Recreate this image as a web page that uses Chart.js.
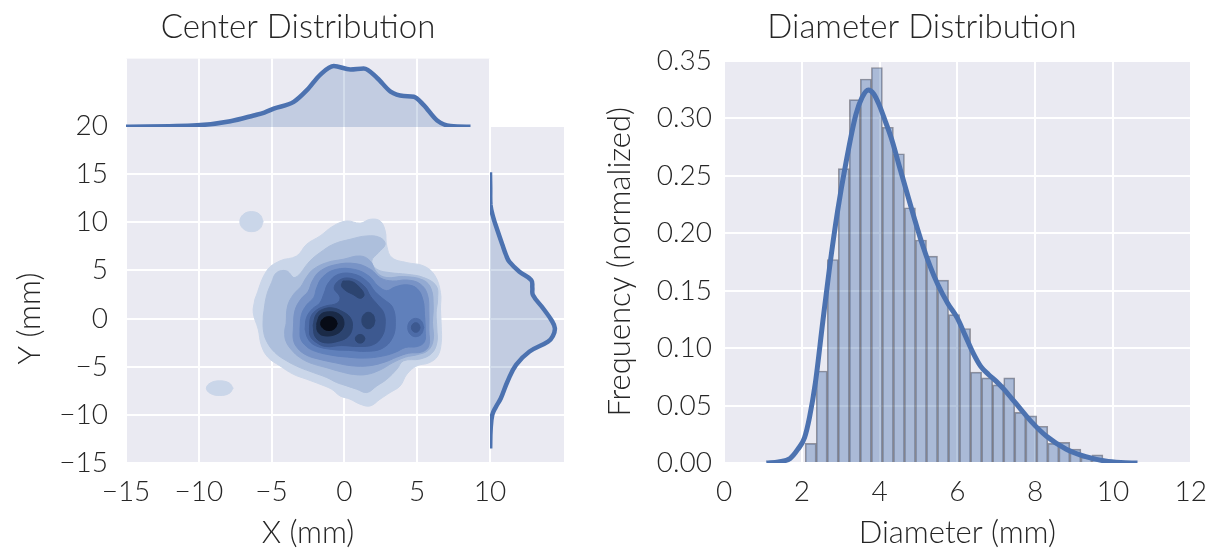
<!DOCTYPE html>
<html>
<head>
<meta charset="utf-8">
<script src="https://cdn.jsdelivr.net/npm/chart.js@4.4.1/dist/chart.umd.min.js"></script>
<style>
html,body{margin:0;padding:0;background:#fff;width:1211px;height:550px;overflow:hidden;position:relative;}
canvas{position:absolute;}
</style>
</head>
<body>
<canvas id="cMain" width="600" height="550" style="left:0;top:0"></canvas>
<canvas id="cYTitle" width="60" height="289" style="left:0;top:174px"></canvas>
<canvas id="cTop" width="384" height="140" style="left:106px;top:0"></canvas>
<canvas id="cSide" width="100" height="380" style="left:480px;top:100px"></canvas>
<canvas id="cHist" width="619" height="550" style="left:600px;top:0"></canvas>
<script>
// ================= DATA =================
// Right panel: normalized histogram of diameters
const binCenters = [2.230,2.513,2.797,3.080,3.364,3.647,3.931,4.214,4.498,4.781,5.065,5.348,5.632,5.915,6.199,6.482,6.766,7.049,7.333,7.616,7.900,8.183,8.467,8.750,9.034,9.317,9.601];
const binHeights = [0.017,0.080,0.177,0.256,0.316,0.334,0.344,0.292,0.269,0.222,0.194,0.180,0.159,0.129,0.117,0.079,0.074,0.068,0.074,0.044,0.041,0.032,0.017,0.018,0.012,0.005,0.007];
// Right panel: KDE of diameters
const kdeDiamX = [1.09,1.4,1.7,1.9,2.07,2.2,2.35,2.54,2.71,2.92,3.14,3.39,3.55,3.71,3.85,3.99,4.15,4.33,4.5,4.67,4.9,5.1,5.3,5.5,5.75,6.0,6.2,6.4,6.6,6.8,7.0,7.2,7.4,7.6,7.9,8.3,8.8,9.3,9.8,10.2,10.63];
const kdeDiamY = [0,0.001,0.004,0.012,0.022,0.04,0.07,0.123,0.169,0.219,0.262,0.303,0.318,0.3245,0.321,0.3115,0.297,0.2795,0.259,0.239,0.212,0.19,0.171,0.155,0.139,0.126,0.111,0.096,0.084,0.077,0.071,0.064,0.056,0.048,0.036,0.023,0.012,0.0055,0.0017,0.0004,0];
const diamTicks = [0,2,4,6,8,10,12];
const freqTicks = [0,0.05,0.10,0.15,0.20,0.25,0.30,0.35];

// Left panel: marginal KDE of X (top)
const topX = [-15,-10.12,-7.83,-6.23,-5.5,-4.85,-3.48,-2.56,-1.65,-0.73,0.42,1.33,2.25,3.17,4.08,4.77,5.45,6.37,7.29,8.66];
const topD = [0.0004,0.0022,0.0076,0.0152,0.019,0.0242,0.0331,0.0488,0.069,0.0802,0.0757,0.077,0.0645,0.0466,0.0408,0.0399,0.0287,0.0085,0.0013,0.0004];
// Left panel: marginal KDE of Y (right side)
const sideY = [-13.5,-11.5,-10.0,-9.2,-8.27,-6.54,-4.81,-3.42,-2.39,-1.8,-1.0,-0.2,1.07,2.45,3.2,4.0,4.87,5.91,6.6,7.63,9.3,10.5,11.8,13.5,15.2];
const sideD = [0.0002,0.0008,0.0028,0.007,0.0132,0.0213,0.0317,0.0481,0.0706,0.0765,0.0789,0.075,0.0645,0.0522,0.0515,0.0502,0.0358,0.0234,0.0195,0.0152,0.0085,0.004,0.0006,0.0003,0];

// Left panel: 2D KDE filled contour levels (outermost -> innermost), [x, y] in mm
const contourColors = ['#CAD6E9','#ADBFDC','#93AAD2','#7893C6','#6080BB','#4D6CA8','#3D5990','#2C4470','#1A2A47','#070B16'];
const lvl1Main = [[-6.15,2.0],[-5.34,4.95],[-4.43,5.99],[-3.28,6.5],[-2.59,7.72],[-1.67,8.58],[-0.76,9.62],[0.16,10.14],[1.08,9.9],[1.77,10.31],[2.45,10.14],[2.8,9.1],[2.91,7.54],[3.26,6.33],[4.29,5.81],[5.44,5.47],[6.2,4.5],[6.6,2.7],[6.6,1.0],[6.65,-0.8],[6.65,-2.5],[6.4,-3.9],[5.8,-4.6],[4.98,-4.91],[4.29,-5.78],[3.83,-6.99],[3.14,-7.68],[2.45,-8.37],[1.77,-9.07],[1.08,-8.89],[0.39,-8.37],[-0.3,-8.03],[-0.87,-7.34],[-1.67,-6.82],[-2.59,-6.3],[-3.51,-5.78],[-4.43,-4.91],[-5.23,-4.05],[-5.69,-2.84],[-5.92,-1.11],[-6.26,0.62],[-6.15,2.0]];
const lvl1BlobA = [[-5.58,10.07],[-5.81,10.81],[-6.38,11.11],[-6.95,10.81],[-7.18,10.07],[-6.95,9.33],[-6.38,9.03],[-5.81,9.33],[-5.58,10.07]];
const lvl1BlobB = [[-7.64,-7.23],[-7.91,-6.69],[-8.56,-6.47],[-9.21,-6.69],[-9.48,-7.23],[-9.21,-7.77],[-8.56,-7.99],[-7.91,-7.77],[-7.64,-7.23]];
const lvl2Main = [[-5.57,0.28],[-5.35,2.35],[-5.0,3.74],[-4.66,4.77],[-3.97,4.95],[-3.39,4.26],[-2.36,5.99],[-1.67,6.85],[-0.76,7.72],[0.39,8.23],[1.54,8.58],[2.45,8.41],[2.8,7.72],[2.34,6.85],[1.88,5.99],[2.23,5.12],[3.14,4.77],[4.29,4.6],[5.44,4.26],[6.3,3.4],[6.4,2.0],[6.3,0.6],[6.35,-1.1],[6.35,-2.5],[6.0,-3.6],[5.2,-4.2],[4.06,-4.39],[3.6,-5.26],[2.91,-6.3],[2.23,-6.99],[1.54,-7.68],[0.85,-7.34],[0.16,-6.99],[-0.53,-6.64],[-1.22,-6.12],[-2.13,-5.61],[-3.05,-5.09],[-3.97,-4.39],[-4.77,-3.53],[-5.35,-2.32],[-5.57,-1.11],[-5.57,0.28]];
const lvl3Main = [[-4.0,-0.5],[-3.9,1.3],[-3.5,2.5],[-3.0,3.3],[-2.6,4.3],[-2.13,5.12],[-1.22,5.81],[-0.07,6.16],[1.08,6.5],[1.77,5.99],[2.23,4.77],[2.91,4.26],[4.06,4.36],[5.4,4.0],[5.95,3.1],[6.1,1.3],[6.05,-0.4],[6.1,-2.2],[5.75,-3.3],[5.0,-3.75],[4.2,-4.0],[3.3,-4.6],[2.5,-5.3],[1.54,-5.8],[0.62,-5.8],[-0.3,-5.5],[-1.22,-5.1],[-2.36,-4.6],[-3.1,-4.0],[-3.6,-3.3],[-4.0,-2.4],[-4.1,-1.4],[-4.0,-0.5]];
const lvl4Main = [[-3.5,-0.9],[-3.4,0.8],[-3.0,2.0],[-2.5,2.8],[-2.2,3.9],[-1.7,4.9],[-0.6,5.6],[0.8,5.7],[1.8,5.1],[2.5,4.2],[3.3,3.9],[4.3,4.0],[5.2,3.6],[5.7,2.5],[5.8,0.6],[5.8,-1.2],[5.8,-2.8],[5.35,-3.45],[4.4,-3.6],[3.6,-4.0],[2.8,-4.5],[1.7,-4.9],[0.5,-4.9],[-0.6,-4.6],[-1.8,-4.2],[-2.6,-3.8],[-3.2,-3.1],[-3.5,-2.2],[-3.5,-0.9]];
const lvl5Main = [[-3.05,-1.1],[-2.95,0.4],[-2.6,1.4],[-2.1,2.2],[-1.9,3.2],[-1.5,4.3],[-0.6,5.1],[0.7,5.1],[1.7,4.4],[2.3,3.4],[2.9,2.9],[3.5,3.3],[4.3,3.5],[5.0,3.1],[5.4,1.9],[5.5,0.4],[5.55,-1.2],[5.5,-2.4],[5.0,-2.9],[4.2,-3.0],[3.5,-3.5],[2.6,-3.9],[1.4,-4.1],[0.2,-4.0],[-0.9,-3.8],[-2.0,-3.4],[-2.6,-2.9],[-3.0,-2.1],[-3.05,-1.1]];
const lvl6Main = [[-2.7,-1.1],[-2.6,0.1],[-2.2,1.0],[-1.7,1.6],[-1.4,2.6],[-1.1,3.7],[-0.4,4.6],[0.7,4.6],[1.6,3.8],[2.1,2.8],[2.7,2.0],[3.3,1.2],[3.5,-0.4],[3.3,-2.0],[2.6,-3.1],[1.5,-3.4],[0.3,-3.3],[-0.9,-3.2],[-2.0,-2.8],[-2.5,-2.1],[-2.7,-1.1]];
const lvl6Right = [[5.45,-0.93],[5.29,-0.26],[4.9,0.02],[4.51,-0.26],[4.35,-0.93],[4.51,-1.6],[4.9,-1.88],[5.29,-1.6],[5.45,-0.93]];
const lvl7Main = [[-2.4,-1.0],[-2.3,0.2],[-1.9,0.9],[-1.3,1.3],[-0.5,1.6],[-0.3,2.2],[-0.7,3.2],[-0.2,4.1],[0.6,4.1],[1.4,3.3],[1.8,2.3],[2.3,1.4],[2.7,0.6],[2.8,-0.6],[2.6,-1.8],[2.0,-2.7],[1.0,-2.9],[-0.2,-2.8],[-1.3,-2.9],[-2.0,-2.4],[-2.35,-1.8],[-2.4,-1.0]];
const lvl7Right = [[5.2,-0.93],[5.11,-0.58],[4.9,-0.43],[4.69,-0.58],[4.6,-0.93],[4.69,-1.28],[4.9,-1.43],[5.11,-1.28],[5.2,-0.93]];
const lvl8Main = [[-2.15,-0.7],[-1.95,0.4],[-1.5,0.95],[-0.8,1.1],[-0.1,0.7],[0.4,0.1],[0.55,-0.8],[0.3,-1.8],[-0.4,-2.35],[-1.4,-2.5],[-2.0,-1.9],[-2.15,-0.7]];
const lvl8Arm = [[-0.1,3.9],[0.5,3.85],[1.0,3.3],[1.35,2.5],[1.1,2.1],[0.6,2.5],[0.1,2.9],[-0.2,3.4],[-0.1,3.9]];
const lvl8BlobA = [[2.1,-0.2],[1.97,0.4],[1.65,0.65],[1.33,0.4],[1.2,-0.2],[1.33,-0.8],[1.65,-1.05],[1.97,-0.8],[2.1,-0.2]];
const lvl8BlobB = [[1.41,-2.1],[1.31,-1.78],[1.08,-1.65],[0.85,-1.78],[0.75,-2.1],[0.85,-2.42],[1.08,-2.55],[1.31,-2.42],[1.41,-2.1]];
const lvl9Main = [[-1.9,-0.5],[-1.65,0.4],[-1.1,0.7],[-0.4,0.5],[-0.05,-0.2],[-0.15,-1.1],[-0.7,-1.7],[-1.5,-1.75],[-1.85,-1.3],[-1.9,-0.5]];
const lvl10Core = [[-0.49,-0.52],[-0.66,-0.01],[-1.06,0.2],[-1.46,-0.01],[-1.63,-0.52],[-1.46,-1.03],[-1.06,-1.24],[-0.66,-1.03],[-0.49,-0.52]];
const contourLevels = [
  [lvl1Main, lvl1BlobA, lvl1BlobB],
  [lvl2Main],
  [lvl3Main],
  [lvl4Main],
  [lvl5Main],
  [lvl6Main, lvl6Right],
  [lvl7Main, lvl7Right],
  [lvl8Main, lvl8Arm, lvl8BlobA, lvl8BlobB],
  [lvl9Main],
  [lvl10Core]
];
const xTicksMain = [-15,-10,-5,0,5,10];
const yTicksMain = [-15,-10,-5,0,5,10,15,20];

// ================= STYLE =================
const FONT = 'Lato, "Open Sans", sans-serif';
const TXT = '#262626';
const BG = '#EAEAF2';
const BLUE = '#4C72B0';
const tickFont = {family: FONT, size: 28, weight: '300'};
const axisTitleFont = {family: FONT, size: 31, weight: '300'};
const plotTitleFont = {family: FONT, size: 33, weight: '300'};
const minus = v => String(v).replace('-', '\u2212');

const bgPlugin = {
  id: 'bg',
  beforeDraw(chart) {
    const {ctx, chartArea: a} = chart;
    ctx.save();
    ctx.fillStyle = BG;
    ctx.fillRect(a.left, a.top, a.right - a.left, a.bottom - a.top);
    ctx.restore();
  }
};
const base = {
  responsive: false, animation: false, devicePixelRatio: 1,
  plugins: {legend: {display: false}, tooltip: {enabled: false}}
};
const grid = {color: '#ffffff', lineWidth: 2, drawTicks: false};

// ================= MAIN JOINT PLOT =================
const contourDatasets = [];
contourLevels.forEach((polys, li) => {
  polys.forEach(poly => {
    contourDatasets.push({
      data: poly.map(p => ({x: p[0], y: p[1]})),
      showLine: true, fill: 'shape', tension: 0.4,
      backgroundColor: contourColors[li], borderColor: contourColors[li],
      borderWidth: 1, pointRadius: 0, order: 100 - li
    });
  });
});

new Chart(document.getElementById('cMain'), {
  type: 'scatter',
  data: {datasets: contourDatasets},
  options: Object.assign({}, base, {
    layout: {padding: {top: 126, right: 110, left: 0, bottom: 0}},
    scales: {
      x: {type: 'linear', min: xTicksMain[0], max: xTicksMain[xTicksMain.length - 1],
          afterBuildTicks: s => { s.ticks = xTicksMain.map(v => ({value: v})); },
          ticks: {color: TXT, font: tickFont, padding: 12, callback: minus, maxRotation: 0},
          grid: grid, border: {display: false},
          title: {display: true, text: 'X (mm)', color: TXT, font: axisTitleFont, padding: {top: 0, bottom: -2}},
          afterFit: s => { s.height = 87; }},
      y: {type: 'linear', min: yTicksMain[0], max: yTicksMain[yTicksMain.length - 1],
          afterBuildTicks: s => { s.ticks = yTicksMain.map(v => ({value: v})); },
          ticks: {color: TXT, font: tickFont, padding: 18, callback: minus},
          grid: grid, border: {display: false},
          afterFit: s => { s.width = 126; }}
    }
  }),
  plugins: [bgPlugin]
});

// Y axis title of the joint plot (centered on the -15..15 span)
new Chart(document.getElementById('cYTitle'), {
  type: 'scatter',
  data: {datasets: []},
  options: Object.assign({}, base, {
    scales: {
      x: {display: false},
      y: {min: -15, max: 15, ticks: {display: false}, grid: {display: false}, border: {display: false},
          title: {display: true, text: 'Y (mm)', color: TXT, font: axisTitleFont, padding: {top: 11, bottom: 0}}}
    }
  })
});

// ================= TOP MARGINAL =================
new Chart(document.getElementById('cTop'), {
  type: 'scatter',
  data: {datasets: [{
    data: topX.map((x, i) => ({x: x, y: topD[i]})),
    showLine: true, fill: 'origin', cubicInterpolationMode: 'monotone',
    borderColor: BLUE, borderWidth: 4.5, backgroundColor: 'rgba(76,114,176,0.25)', pointRadius: 0
  }]},
  options: Object.assign({}, base, {
    layout: {padding: {top: 0, right: 0, left: 0, bottom: 13}},
    plugins: {legend: {display: false}, tooltip: {enabled: false},
      title: {display: true, text: 'Center Distribution', color: TXT, font: plotTitleFont, padding: {top: 8, bottom: 11}}},
    scales: {
      x: {type: 'linear', min: -15, max: 10,
          afterBuildTicks: s => { s.ticks = xTicksMain.map(v => ({value: v})); },
          ticks: {display: false}, grid: grid, border: {display: false},
          afterFit: s => { s.height = 0; }},
      y: {type: 'linear', min: 0, max: 0.09, ticks: {display: false}, grid: {display: false}, border: {display: false},
          afterFit: s => { s.width = 20; }}
    }
  }),
  plugins: [bgPlugin]
});

// ================= RIGHT MARGINAL =================
new Chart(document.getElementById('cSide'), {
  type: 'line',
  data: {datasets: [{
    data: sideY.map((y, i) => ({x: sideD[i], y: y})),
    fill: 'origin', tension: 0.4,
    borderColor: BLUE, borderWidth: 4.5, backgroundColor: 'rgba(76,114,176,0.25)', pointRadius: 0
  }]},
  options: Object.assign({}, base, {
    indexAxis: 'y',
    layout: {padding: {top: 26, right: 16, left: 10, bottom: 17}},
    scales: {
      x: {type: 'linear', min: 0, max: 0.09,
          afterBuildTicks: s => { s.ticks = [{value: 0}]; },
          ticks: {display: false}, grid: grid, border: {display: false},
          afterFit: s => { s.height = 0; }},
      y: {type: 'linear', min: -15, max: 20,
          afterBuildTicks: s => { s.ticks = yTicksMain.map(v => ({value: v})); },
          ticks: {display: false}, grid: grid, border: {display: false},
          afterFit: s => { s.width = 0; }}
    }
  }),
  plugins: [bgPlugin]
});

// ================= HISTOGRAM =================
new Chart(document.getElementById('cHist'), {
  type: 'bar',
  data: {datasets: [
    {type: 'line', data: kdeDiamX.map((x, i) => ({x: x, y: kdeDiamY[i]})),
     borderColor: BLUE, borderWidth: 5, pointRadius: 0, fill: false,
     cubicInterpolationMode: 'monotone', order: 1},
    {type: 'bar', data: binCenters.map((x, i) => ({x: x, y: binHeights[i]})),
     backgroundColor: 'rgba(76,114,176,0.4)', borderColor: 'rgba(40,40,50,0.45)', borderWidth: 1,
     borderSkipped: 'start', barPercentage: 1, categoryPercentage: 1, order: 2}
  ]},
  options: Object.assign({}, base, {
    layout: {padding: {top: 0, right: 28, left: 53, bottom: 0}},
    plugins: {legend: {display: false}, tooltip: {enabled: false},
      title: {display: true, text: 'Diameter Distribution', color: TXT, font: plotTitleFont, padding: {top: 8, bottom: 13}}},
    scales: {
      x: {type: 'linear', min: 0, max: 12, offset: false,
          afterBuildTicks: s => { s.ticks = diamTicks.map(v => ({value: v})); },
          ticks: {color: TXT, font: tickFont, padding: 12, maxRotation: 0},
          grid: Object.assign({offset: false}, grid), border: {display: false},
          title: {display: true, text: 'Diameter (mm)', color: TXT, font: axisTitleFont, padding: {top: 0, bottom: -2}},
          afterFit: s => { s.height = 87; }},
      y: {type: 'linear', min: 0, max: 0.35,
          afterBuildTicks: s => { s.ticks = freqTicks.map(v => ({value: v})); },
          ticks: {color: TXT, font: tickFont, padding: 12, callback: v => Number(v).toFixed(2)},
          grid: grid, border: {display: false},
          title: {display: true, text: 'Frequency (normalized)', color: TXT, font: axisTitleFont, padding: {top: -52, bottom: 0}},
          afterFit: s => { s.width = 71; }}
    }
  }),
  plugins: [bgPlugin]
});
</script>
</body>
</html>
